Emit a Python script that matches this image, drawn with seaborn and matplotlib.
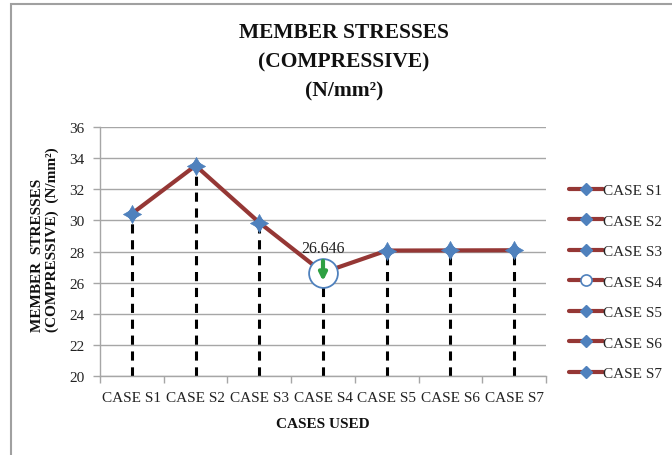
import matplotlib
matplotlib.use("Agg")
import matplotlib.pyplot as plt
import seaborn as sns
import numpy as np
import pandas as pd
from matplotlib.lines import Line2D
from matplotlib.patches import Rectangle

cases = ["CASE S1", "CASE S2", "CASE S3", "CASE S4", "CASE S5", "CASE S6", "CASE S7"]
stress = [30.43, 33.52, 29.86, 26.646, 28.06, 28.07, 28.08]
y_ticks = [20, 22, 24, 26, 28, 30, 32, 34, 36]
highlight_case = "CASE S4"
highlight_label = "26.646"

sns.set_theme(style="white")
plt.rcParams['font.family'] = ['Liberation Serif', 'DejaVu Serif']

LINE = "#953735"
BLUE = "#4F81BD"
GRID = "#A6A6A6"

df = pd.DataFrame({"case": cases, "stress": stress})
df["pos"] = np.arange(len(cases))

W, H = 672, 456
fig = plt.figure(figsize=(W / 100, H / 100), dpi=100)
ax = fig.add_axes([100 / W, 1 - 377 / H, (546 - 100) / W, (377 - 128) / H])

# border of chart area
fig.add_artist(Rectangle((11 / W, -0.05), 1.1, 1 - 5 / H + 0.05, transform=fig.transFigure,
                         fill=False, edgecolor="#A0A0A0", lw=1.5, zorder=0))

# drop lines
hi_idx = cases.index(highlight_case)
tops = [v - (0.55 if i == hi_idx else 0) for i, v in enumerate(stress)]
ax.vlines(df["pos"], 20, tops, colors="black", linestyles=(0, (3.0, 2.2)), lw=2.2, zorder=2)

# line
sns.lineplot(data=df, x="pos", y="stress", color=LINE, lw=3, ax=ax, zorder=3,
             estimator=None, sort=False)

# star markers
normal = df[df["case"] != highlight_case]
sns.scatterplot(data=normal, x="pos", y="stress", marker=(4, 1, 0), s=170, color=BLUE,
                edgecolor=BLUE, linewidth=0.5, ax=ax, zorder=4, legend=False)
sns.scatterplot(data=normal, x="pos", y="stress", marker="D", s=55, color=BLUE,
                edgecolor=BLUE, linewidth=0, ax=ax, zorder=4, legend=False)

# highlighted point
hi = df[df["case"] == highlight_case]
sns.scatterplot(data=hi, x="pos", y="stress", marker="o", s=430, color="white",
                edgecolor=BLUE, linewidth=1.3, ax=ax, zorder=5, legend=False)
hx, hy = float(hi["pos"].iloc[0]), float(hi["stress"].iloc[0])
ax.annotate("", xy=(hx, hy - 0.55), xytext=(hx, hy + 0.75),
            arrowprops=dict(arrowstyle="-|>", color="#2EA043", lw=3, mutation_scale=11,
                            shrinkA=0, shrinkB=0),
            zorder=6)
ax.annotate(highlight_label, (hx, hy), xytext=(0, 25), textcoords="offset pixels",
            ha="center", va="center", fontsize=11.5, color="#222222", zorder=6)

# axes styling
ax.set_xlim(-0.5, len(cases) - 0.5)
ax.set_ylim(y_ticks[0], y_ticks[-1])
ax.set_yticks(y_ticks)
ax.set_yticklabels([str(t) for t in y_ticks], fontsize=11)
ax.set_xticks(df["pos"])
ax.set_xticklabels(cases, fontsize=11)
ax.set_xticks(np.arange(-0.5, len(cases), 1.0), minor=True)
ax.tick_params(axis="x", which="major", length=0, pad=11, colors="#222222")
ax.tick_params(axis="x", which="minor", length=5, width=1, color=GRID, direction="out", bottom=True)
ax.tick_params(axis="y", which="major", length=5, width=1, color=GRID, direction="out", left=True,
               pad=6, labelcolor="#222222")
ax.grid(axis="y", color=GRID, lw=1)
ax.set_axisbelow(True)
for s in ["top", "right"]:
    ax.spines[s].set_visible(False)
for s in ["left", "bottom"]:
    ax.spines[s].set_color(GRID)
    ax.spines[s].set_linewidth(1)
ax.set_xlabel("")
ax.set_ylabel("")

# labels
fig.text(344 / W, 1 - 62 / H, "MEMBER STRESSES\n(COMPRESSIVE)\n(N/mm²)", ha="center", va="center",
         fontsize=15.5, fontweight="bold", linespacing=1.62, color="#111111")
fig.text(323 / W, 1 - 425 / H, "CASES USED", ha="center", va="center", fontsize=11,
         fontweight="bold", color="#111111")
fig.text(45 / W, 1 - 240 / H, "MEMBER  STRESSES\n(COMPRESSIVE)  (N/mm²)", rotation=90,
         ha="center", va="center", fontsize=11, fontweight="bold", multialignment="left",
         linespacing=1.15, color="#111111")

# legend
handles = []
for c in cases:
    if c == highlight_case:
        handles.append(Line2D([], [], color=LINE, lw=3, marker="o", markersize=8,
                              markerfacecolor="white", markeredgecolor=BLUE, markeredgewidth=1.2))
    else:
        handles.append(Line2D([], [], color=LINE, lw=3, marker="D", markersize=6,
                              markerfacecolor=BLUE, markeredgecolor=BLUE))
fig.legend(handles, cases, loc="center left", bbox_to_anchor=(569 / W, 1 - 282.8 / H),
           frameon=False, fontsize=11, handlelength=2.2, handletextpad=0.05,
           labelspacing=1.1, borderpad=0, borderaxespad=0)

fig.savefig("out.png", dpi=100)
